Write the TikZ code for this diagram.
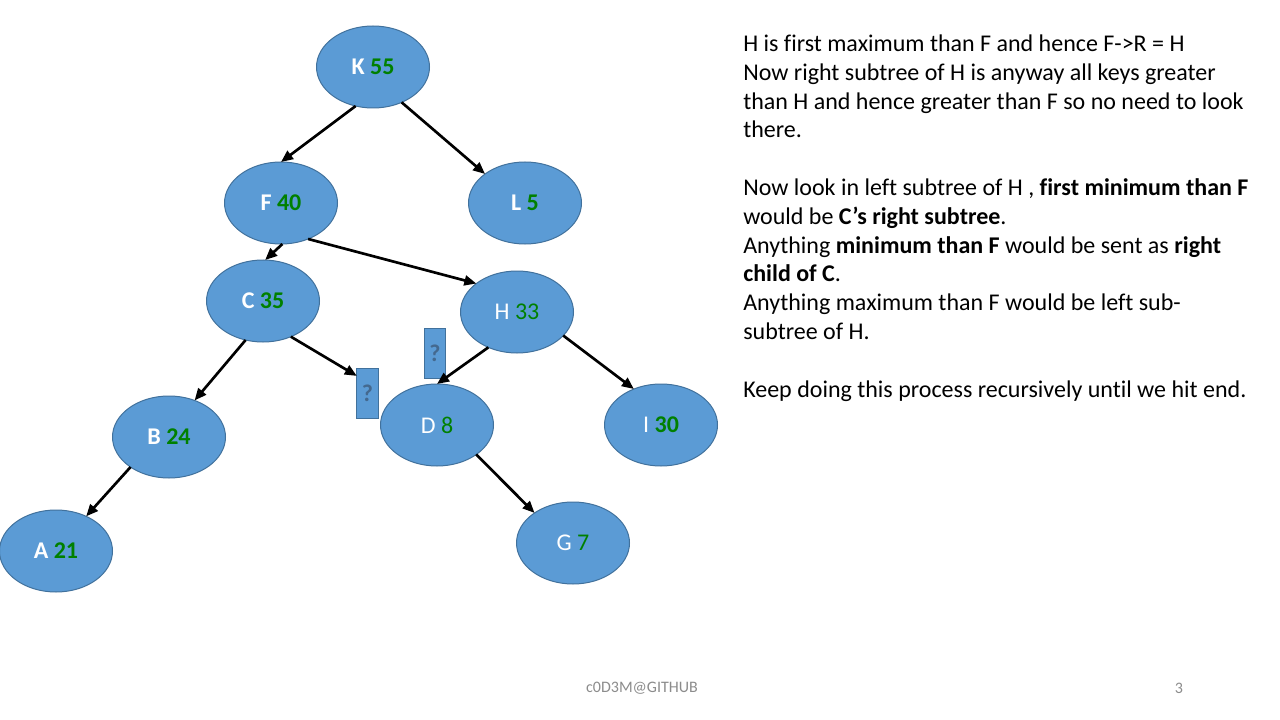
\documentclass[tikz,border=0pt]{standalone}
\usepackage{fontspec}
\setmainfont{Carlito}[Ligatures=NoCommon]
\usetikzlibrary{shapes.geometric,arrows.meta}
\definecolor{ao}{HTML}{5B9BD5}
\definecolor{aofuchi}{HTML}{41719C}
\definecolor{midori}{HTML}{008000}
\definecolor{hatena}{HTML}{44698F}
\definecolor{hai}{HTML}{8C8C8C}

\begin{document}
\begin{tikzpicture}[x=0.75pt, y=-0.75pt,
    key/.style={ellipse, draw=aofuchi, line width=0.75pt, fill=ao, minimum width=84.75pt, minimum height=61.5pt, inner sep=0pt, outer sep=0pt, text=white, font=\fontsize{18}{21.6}\selectfont},
    slot/.style={rectangle, draw=aofuchi, line width=0.75pt, fill=ao, minimum width=16pt, minimum height=37.5pt, inner sep=0pt, outer sep=0pt, text=hatena, font=\bfseries\fontsize{18}{21.6}\selectfont},
    link/.style={-{Triangle[length=9pt,width=7.5pt]}, line width=2pt}]
    \useasboundingbox[fill=white] (0,0) rectangle (1280,720);

    % keys with bold letter
    \foreach \n / \x / \y / \v in {K/373/67/55, F/281/203/40, L/525/203/5, C/263/301/35, B/169/437/24, A/56/551/21}
        \node[key] (\n) at (\x, \y) {\textbf{\n} \textcolor{midori}{\textbf{\v}}};
    % keys with plain letter
    \node[key] (I) at (661, 425) {I \textcolor{midori}{\textbf{30}}};
    \foreach \n / \x / \y / \v in {H/517/312/33, D/437/425/8, G/573/543/7}
        \node[key] (\n) at (\x, \y) {\n\ \textcolor{midori}{\v}};

    % empty places
    \node[slot] (q1) at (367.5, 393) {?};
    \node[slot] (q2) at (435, 353) {?};

    \foreach \a / \sa / \b / \eb in {K/246/F/90, K/309/L/144, F/272/C/87, F/307/H/145, C/246/B/55, C/308/q1/122, H/231/D/90, H/333/I/127, B/218/A/49, D/323/G/142}
        \draw[link] (\a.\sa) -- (\b.\eb);

    \node[anchor=north west, align=left, inner sep=0pt, font=\fontsize{18}{21.6}\selectfont] (notes) at (743, 34.5) {%
        H is first maximum than F and hence F->R = H\\
        Now right subtree of H is anyway all keys greater\\
        than H and hence greater than F so no need to look\\
        there.\\[21.6pt]
        Now look in left subtree of H , \textbf{first minimum than F}\\
        would be \textbf{C’s right subtree}.\\
        Anything \textbf{minimum than F} would be sent as \textbf{right}\\
        \textbf{child of C}.\\
        Anything maximum than F would be left sub-\\
        subtree of H.\\[21.6pt]
        Keep doing this process recursively until we hit end.};

    \node[text=hai, font=\fontsize{12}{14}\selectfont] (footer) at (642, 688) {c0D3M@GITHUB};
    \node[text=hai, font=\fontsize{12}{14}\selectfont] (page) at (1179, 688) {3};
\end{tikzpicture}
\end{document}
